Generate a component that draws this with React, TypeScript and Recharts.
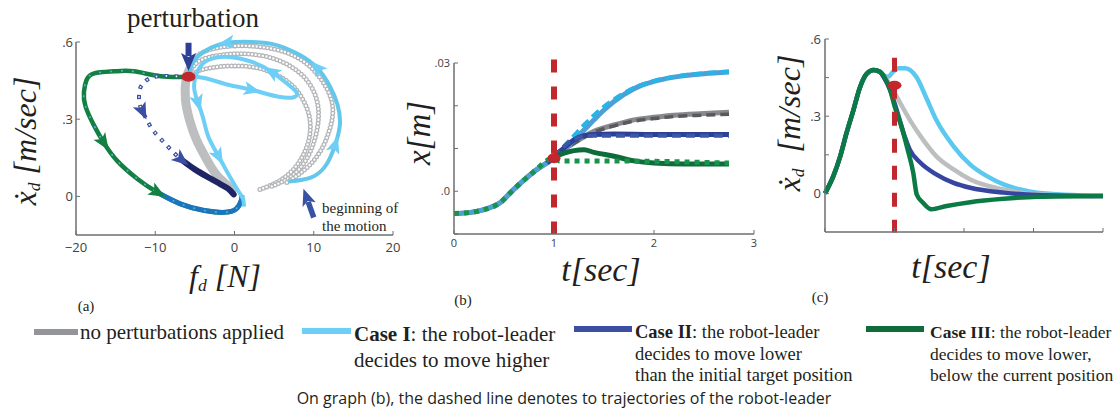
import React from 'react';
import { LineChart, Line, XAxis, YAxis, ReferenceLine, ReferenceDot } from 'recharts';

type Pt = [number, number];
const toXY = (pts: Pt[]) => pts.map(([x, y]) => ({ x, y }));

// ---------- graph (a): phase plot, f_d [N] vs xdot_d [m/sec] ----------
const aXTicks = [-20, -10, 0, 10, 20];
const aXTickLabels = ['\u221220', '\u221210', '0', '10', '20'];
const aYTicks = [0, 0.3, 0.6];
const aYTickLabels = ['0', '.3', '.6'];

const aGrayLoop1: Pt[] = [[3.2, 0.027], [5.3, 0.054], [7.2, 0.097], [8.7, 0.163], [9.5, 0.24], [9.4, 0.317], [8.5, 0.383], [7.2, 0.434], [5.3, 0.472], [2.8, 0.5], [-0.4, 0.507], [-2.9, 0.5], [-4.8, 0.484], [-5.7, 0.453]];
const aGrayLoop2: Pt[] = [[4.7, 0.039], [7, 0.074], [8.9, 0.136], [10.1, 0.22], [10.6, 0.306], [10.3, 0.383], [9.1, 0.453], [7.2, 0.503], [4.7, 0.538], [1.5, 0.554], [-1.6, 0.55], [-4.2, 0.53], [-5.6, 0.49]];
const aGrayLoop3: Pt[] = [[6.6, 0.054], [8.9, 0.105], [10.8, 0.174], [12, 0.26], [12.4, 0.345], [11.6, 0.422], [10, 0.49], [7.8, 0.542], [4.9, 0.573], [1.5, 0.585], [-1.6, 0.58], [-4.2, 0.557], [-5.4, 0.519]];
const aGrayBand: Pt[] = [[-5.6, 0.5], [-6.1, 0.457], [-6.2, 0.38], [-5.7, 0.3], [-4.8, 0.22], [-3.5, 0.143], [-2.3, 0.085], [-1, 0.046], [-0.4, 0.027], [0, 0.012]];

const aCase1Pre: Pt[] = [[6.8, 0.058], [9.7, 0.074], [11.6, 0.124], [12.7, 0.2], [13.3, 0.28], [13, 0.356], [12, 0.43], [10.4, 0.5], [8.2, 0.55], [5.3, 0.588], [2.2, 0.6], [-1, 0.596], [-3.5, 0.569], [-5.2, 0.523], [-5.8, 0.465]];
const aCase1PreArrows = [3, 7, 11];
const aCase1Post: Pt[] = [[-5.8, 0.465], [-3.8, 0.46], [-0.8, 0.434], [2.2, 0.414], [5.6, 0.387], [7.6, 0.387], [7.8, 0.406], [6.8, 0.434], [4.7, 0.484], [2.2, 0.523], [-0.8, 0.542], [-3.3, 0.53], [-4.6, 0.49], [-5.1, 0.426], [-4.6, 0.364], [-3.9, 0.298], [-3.3, 0.232], [-2, 0.155], [-0.6, 0.077], [0.6, 0.015], [1.1, -0.012], [1.2, -0.04]];
const aCase1PostArrows = [3, 8, 14, 17];

const aCase2: Pt[] = [[-5.8, 0.465], [-7.6, 0.467], [-9.2, 0.468], [-10.6, 0.46], [-11.5, 0.44], [-12, 0.41], [-12, 0.364], [-11.6, 0.33], [-10.5, 0.267], [-9.2, 0.22], [-8, 0.18], [-6.7, 0.143], [-5, 0.105], [-3.3, 0.074], [-1.8, 0.048], [-0.8, 0.03], [-0.1, 0.008]];
const aCase2Arrows = [7, 11];
const aCase2TailFrom = 11;

const aCase3: Pt[] = [[-5.8, 0.465], [-9.3, 0.467], [-12.7, 0.486], [-15.2, 0.486], [-17.7, 0.478], [-18.7, 0.45], [-19, 0.405], [-18.8, 0.35], [-17.7, 0.274], [-16.5, 0.209], [-14.8, 0.138], [-12.2, 0.067], [-9.7, 0.015], [-6.75, -0.03], [-3.8, -0.055], [-1.3, -0.062], [0.2, -0.049], [0.84, -0.017], [0.93, 0.003]];
const aCase3Arrows = [9, 12];
const aCase3TailFrom = 12;

const aPerturb: Pt = [-5.8, 0.465];

// ---------- graph (b): t [sec] vs x [m] ----------
const bXTicks = [0, 1, 2, 3];
const bYTicks = [-0.01, 0, 0.01, 0.02, 0.03];
const bYTickLabels = ['', '.0', '', '', '.03'];
const bPre: Pt[] = [[0, -0.0052], [0.15, -0.005], [0.3, -0.0043], [0.46, -0.0027], [0.6, 0.0005], [0.79, 0.0044], [1.0, 0.0078]];
const bGray: Pt[] = [...bPre, [1.1, 0.0097], [1.2, 0.0113], [1.4, 0.014], [1.6, 0.0155], [1.8, 0.0167], [2.0, 0.0173], [2.2, 0.0178], [2.5, 0.0182], [2.75, 0.0185]];
const bGrayLeader: Pt[] = [...bPre, [1.2, 0.0112], [1.4, 0.0138], [1.6, 0.0153], [1.8, 0.0164], [2.0, 0.017], [2.2, 0.0175], [2.5, 0.0178], [2.75, 0.018]];
const bCase1: Pt[] = [...bPre, [1.1, 0.0097], [1.2, 0.012], [1.3, 0.0143], [1.4, 0.0167], [1.5, 0.019], [1.6, 0.021], [1.8, 0.024], [2.0, 0.0257], [2.2, 0.0267], [2.5, 0.0275], [2.75, 0.0279]];
const bCase1Leader: Pt[] = [[1.0, 0.0078], [1.1, 0.0105], [1.2, 0.013], [1.3, 0.0155], [1.4, 0.0178], [1.5, 0.0198], [1.6, 0.0215], [1.8, 0.0242], [2.0, 0.0258], [2.2, 0.0268], [2.5, 0.0276], [2.75, 0.028]];
const bCase2: Pt[] = [[0.93, 0.0066], [1.0, 0.0082], [1.1, 0.0101], [1.2, 0.012], [1.3, 0.013], [1.4, 0.0133], [1.6, 0.0134], [2.0, 0.0133], [2.75, 0.0133]];
const bCase2Leader: Pt[] = [[1.0, 0.0078], [1.1, 0.0105], [1.2, 0.0122], [1.3, 0.0128], [1.4, 0.013], [2.0, 0.013], [2.75, 0.013]];
const bCase3: Pt[] = [[1.0, 0.0078], [1.05, 0.0085], [1.1, 0.0089], [1.2, 0.0095], [1.3, 0.0097], [1.4, 0.0091], [1.6, 0.0082], [1.8, 0.0071], [2.0, 0.0066], [2.3, 0.0064], [2.75, 0.0064]];
const bCase3Leader: Pt[] = [...bPre, [1.05, 0.0071], [1.5, 0.0071], [2.0, 0.007], [2.75, 0.0066]];
const bPerturb: Pt = [1.0, 0.0077];

// ---------- graph (c): t [sec] vs xdot_d [m/sec] ----------
const cXTicks = [0, 1, 2, 3, 4];
const cYTicks = [0, 0.15, 0.3, 0.45, 0.6];
const cYTickLabels = ['0', '', '.3', '', '.6'];
const cRise: Pt[] = [[0, 0], [0.12, 0.067], [0.22, 0.145], [0.31, 0.235], [0.41, 0.325], [0.5, 0.41], [0.6, 0.465], [0.7, 0.48], [0.79, 0.473]];
const cGray: Pt[] = [...cRise, [0.84, 0.46], [0.94, 0.42], [1.03, 0.377], [1.22, 0.286], [1.41, 0.209], [1.6, 0.145], [1.85, 0.093], [2.09, 0.054], [2.57, 0.015], [3.05, -0.004], [4, -0.01]];
const cCase1: Pt[] = [...cRise, [0.84, 0.46], [0.91, 0.454], [0.98, 0.473], [1.06, 0.486], [1.15, 0.486], [1.22, 0.48], [1.32, 0.45], [1.46, 0.37], [1.6, 0.286], [1.85, 0.183], [2.09, 0.112], [2.33, 0.067], [2.57, 0.035], [2.81, 0.015], [3.05, 0.003], [4, -0.01]];
const cCase2: Pt[] = [...cRise, [0.84, 0.454], [0.94, 0.4], [1.03, 0.325], [1.13, 0.235], [1.22, 0.17], [1.37, 0.12], [1.6, 0.074], [1.85, 0.041], [2.09, 0.022], [2.57, 0.003], [3.05, -0.006], [4, -0.01]];
const cCase3: Pt[] = [...cRise, [0.86, 0.45], [0.94, 0.4], [1.0, 0.34], [1.1, 0.26], [1.19, 0.17], [1.27, 0.08], [1.32, -0.004], [1.41, -0.036], [1.53, -0.062], [1.75, -0.049], [2.09, -0.034], [2.57, -0.021], [3.05, -0.013], [4, -0.01]];
const cPerturb: Pt = [1.0, 0.42];

// ---------- shared styling ----------
const RED = '#c1272d';
const axisLine = { stroke: '#6d6e71', strokeWidth: 1.5 };
const tickFont = { fill: '#414042', fontSize: 13, fontFamily: 'Open Sans' };
const labelFont: React.CSSProperties = { fontFamily: 'Liberation Serif', fontStyle: 'italic', color: '#231f20', whiteSpace: 'nowrap', position: 'absolute', lineHeight: 0.9 };

const arrowDot = (pts: Pt[], at: number[], color: string, sx: number, sy: number) =>
  (props: any) => {
    const { cx, cy, index } = props;
    const key = `ad-${color}-${index}`;
    if (!at.includes(index) || cx == null) return <g key={key} />;
    const b = pts[Math.min(index + 1, pts.length - 1)];
    const p = pts[Math.max(index - 1, 0)];
    const ang = (Math.atan2(-(b[1] - p[1]) * sy, (b[0] - p[0]) * sx) * 180) / Math.PI;
    return (
      <polygon key={key} points="9,0 -8,-7 -4,0 -8,7" fill={color}
        transform={`translate(${cx},${cy}) rotate(${ang})`} />
    );
  };

const arrowShape = (color: string, shaft: number, headL: number, headW: number) => (props: any) => {
  const { x1, y1, x2, y2 } = props;
  const ang = Math.atan2(y2 - y1, x2 - x1);
  const bx = x2 - Math.cos(ang) * headL;
  const by = y2 - Math.sin(ang) * headL;
  const nx = -Math.sin(ang) * headW / 2;
  const ny = Math.cos(ang) * headW / 2;
  return (
    <g>
      <line x1={x1} y1={y1} x2={bx + Math.cos(ang) * 3} y2={by + Math.sin(ang) * 3} stroke={color} strokeWidth={shaft} />
      <polygon points={`${x2},${y2} ${bx + nx},${by + ny} ${bx + Math.cos(ang) * 4},${by + Math.sin(ang) * 4} ${bx - nx},${by - ny}`} fill={color} />
    </g>
  );
};

const redDot = (rx: number, ry: number) => (p: any) => <ellipse cx={p.cx} cy={p.cy} rx={rx} ry={ry} fill={RED} />;

function ChartA() {
  const sx = 317 / 40;
  const sy = 193 / 0.75;
  const ring = (pts: Pt[], k: string) => [
    <Line key={k + 'o'} data={toXY(pts)} dataKey="y" type="natural" stroke="#b3b5b8" strokeWidth={5}
      strokeDasharray="0 3.6" strokeLinecap="round" dot={false} isAnimationActive={false} />,
    <Line key={k + 'i'} data={toXY(pts)} dataKey="y" type="natural" stroke="#ffffff" strokeWidth={2.4}
      strokeDasharray="0 3.6" strokeLinecap="round" dot={false} isAnimationActive={false} />,
  ];
  return (
    <LineChart width={420} height={300} margin={{ top: 42, right: 27, bottom: 35, left: 36 }}>
      <XAxis type="number" dataKey="x" domain={[-20, 20]} ticks={aXTicks} height={30}
        tickFormatter={(v: number) => aXTickLabels[aXTicks.indexOf(v)] ?? ''}
        axisLine={axisLine} tickLine={{ stroke: '#6d6e71' }} tickSize={-4} tickMargin={12} tick={tickFont} />
      <YAxis type="number" dataKey="y" domain={[-0.15, 0.6]} ticks={aYTicks} width={40}
        tickFormatter={(v: number) => aYTickLabels[aYTicks.indexOf(v)] ?? ''}
        axisLine={axisLine} tickLine={{ stroke: '#6d6e71' }} tickSize={-4} tickMargin={7} tick={tickFont} />
      {ring(aGrayLoop1, 'g1')}
      {ring(aGrayLoop2, 'g2')}
      {ring(aGrayLoop3, 'g3')}
      <Line data={toXY(aGrayBand)} dataKey="y" type="natural" stroke="#bcbec0" strokeWidth={9} dot={false} isAnimationActive={false} />
      <Line data={toXY(aCase3)} dataKey="y" type="natural" stroke="#118040" strokeWidth={4.5}
        dot={arrowDot(aCase3, aCase3Arrows, '#118040', sx, sy)} isAnimationActive={false} />
      <Line data={toXY(aCase3.slice(aCase3TailFrom))} dataKey="y" type="natural" stroke="#1b75bc" strokeWidth={5} dot={false} isAnimationActive={false} />
      <Line data={toXY(aCase3)} dataKey="y" type="natural" stroke="#5aa9dd" strokeWidth={1.6} strokeDasharray="2 9" dot={false} isAnimationActive={false} />
      <Line data={toXY(aCase2)} dataKey="y" type="natural" stroke="#3b4ea2" strokeWidth={4} strokeDasharray="4 6"
        dot={false} isAnimationActive={false} />
      <Line data={toXY(aCase2)} dataKey="y" type="natural" stroke="#ffffff" strokeWidth={1.7} strokeDasharray="0 1.2 1.6 7.2"
        dot={arrowDot(aCase2, aCase2Arrows, '#3b4ea2', sx, sy)} isAnimationActive={false} />
      <Line data={toXY(aCase2.slice(aCase2TailFrom))} dataKey="y" type="natural" stroke="#1f2466" strokeWidth={6} strokeLinecap="round" dot={false} isAnimationActive={false} />
      <Line data={toXY(aCase1Pre)} dataKey="y" type="natural" stroke="#62c7ea" strokeWidth={4}
        dot={arrowDot(aCase1Pre, aCase1PreArrows, '#6dcff6', sx, sy)} isAnimationActive={false} />
      <Line data={toXY(aCase1Post)} dataKey="y" type="natural" stroke="#6dcff6" strokeWidth={4}
        dot={arrowDot(aCase1Post, aCase1PostArrows, '#6dcff6', sx, sy)} isAnimationActive={false} />
      <ReferenceDot x={aPerturb[0]} y={aPerturb[1]} shape={redDot(7, 5)} ifOverflow="visible" />
      <ReferenceLine segment={[{ x: -5.8, y: 0.597 }, { x: -5.8, y: 0.487 }]} ifOverflow="visible"
        shape={arrowShape('#2e3f98', 6, 18, 15)} />
      <ReferenceLine segment={[{ x: 10, y: -0.082 }, { x: 8.7, y: 0.03 }]} ifOverflow="visible"
        shape={arrowShape('#3953a4', 5.5, 17, 14)} />
    </LineChart>
  );
}

function ChartB() {
  const L = (pts: Pt[], color: string, w: number, dash?: string) => (
    <Line data={toXY(pts)} dataKey="y" type="monotone" stroke={color} strokeWidth={w}
      strokeDasharray={dash} dot={false} isAnimationActive={false} />
  );
  return (
    <LineChart width={380} height={300} margin={{ top: 63, right: 26, bottom: 36, left: 14 }}>
      <XAxis type="number" dataKey="x" domain={[0, 3]} ticks={bXTicks} height={30}
        axisLine={axisLine} tickLine={{ stroke: '#6d6e71' }} tickSize={-4} tickMargin={9} tick={{ ...tickFont, fontSize: 11 }} />
      <YAxis type="number" dataKey="y" domain={[-0.01, 0.03]} ticks={bYTicks} width={40}
        tickFormatter={(v: number) => bYTickLabels[bYTicks.findIndex((t) => Math.abs(t - v) < 1e-9)] ?? ''}
        axisLine={axisLine} tickLine={{ stroke: '#6d6e71' }} tickSize={-4} tickMargin={8} tick={{ ...tickFont, fontSize: 11 }} />
      {L(bGray, '#87898c', 5)}
      {L(bGrayLeader, '#58595b', 3.5, '9 5')}
      {L(bCase1, '#4e9fd6', 5)}
      {L(bCase1Leader, '#27b4e6', 4, '9 5')}
      {L(bCase2, '#2e3f98', 5)}
      {L(bCase2Leader, '#3b58a8', 4, '9 5')}
      {L(bCase3, '#0f6b3a', 5)}
      {L(bCase3Leader, '#16944b', 5, '5 5')}
      <ReferenceLine segment={[{ x: 1, y: 0.0308 }, { x: 1, y: -0.01 }]} ifOverflow="visible"
        stroke={RED} strokeWidth={6} strokeDasharray="13 14" />
      <ReferenceDot x={bPerturb[0]} y={bPerturb[1]} shape={redDot(6.5, 5)} ifOverflow="visible" />
    </LineChart>
  );
}

function ChartC() {
  const L = (pts: Pt[], color: string) => (
    <Line data={toXY(pts)} dataKey="y" type="monotone" stroke={color} strokeWidth={4.5} dot={false} isAnimationActive={false} />
  );
  return (
    <LineChart width={345} height={300} margin={{ top: 39, right: 12, bottom: 38, left: 15 }}>
      <XAxis type="number" dataKey="x" domain={[0, 4]} ticks={cXTicks} height={30} tickFormatter={() => ''}
        axisLine={axisLine} tickLine={{ stroke: '#6d6e71' }} tickSize={-4} tickMargin={9} tick={tickFont} />
      <YAxis type="number" dataKey="y" domain={[-0.15, 0.6]} ticks={cYTicks} width={40}
        tickFormatter={(v: number) => cYTickLabels[cYTicks.indexOf(v)] ?? ''}
        axisLine={axisLine} tickLine={{ stroke: '#6d6e71' }} tickSize={-4} tickMargin={8} tick={tickFont} />
      {L(cCase1, '#5bc8f0')}
      {L(cGray, '#bcbec0')}
      {L(cCase2, '#3545a0')}
      {L(cCase3, '#0b7a45')}
      <ReferenceLine segment={[{ x: 1, y: 0.527 }, { x: 1, y: -0.152 }]} ifOverflow="visible"
        stroke={RED} strokeWidth={5} strokeDasharray="14 13" />
      <ReferenceDot x={cPerturb[0]} y={cPerturb[1]} shape={redDot(7, 4.5)} ifOverflow="visible" />
    </LineChart>
  );
}

const sub = (t: string) => <span style={{ fontSize: '0.55em', verticalAlign: '-0.25em' }}>{t}</span>;

function LegendBar({ left, top, width, color }: { left: number; top: number; width: number; color: string }) {
  return <div style={{ position: 'absolute', left, top, width, height: 6, background: color }} />;
}

export default function App() {
  const serif: React.CSSProperties = { position: 'absolute', fontFamily: 'Liberation Serif', color: '#231f20', whiteSpace: 'nowrap', lineHeight: 1 };
  return (
    <div style={{ position: 'fixed', left: 0, top: 0, width: 1115, height: 414, background: '#fff', overflow: 'hidden' }}>
      <div style={{ position: 'absolute', left: 0, top: 0 }}><ChartA /></div>
      <div style={{ position: 'absolute', left: 400, top: 0 }}><ChartB /></div>
      <div style={{ position: 'absolute', left: 770, top: 0 }}><ChartC /></div>

      {/* graph titles and axis labels */}
      <div style={{ ...serif, left: 193, top: 18, fontSize: 27, transform: 'translate(-50%,-50%)' }}>perturbation</div>
      <div style={{ ...labelFont, left: 27, top: 141, fontSize: 32, transform: 'translate(-50%,-50%) rotate(-90deg)' }}>{'\u1E8B'}{sub('d')} [m/sec]</div>
      <div style={{ ...labelFont, left: 225, top: 278, fontSize: 32, transform: 'translate(-50%,-50%)' }}>f{sub('d')} [N]</div>
      <div style={{ ...serif, left: 322, top: 199, fontSize: 15, lineHeight: '18px' }}>beginning of<br />the motion</div>
      <div style={{ ...serif, left: 86, top: 306, fontSize: 15, transform: 'translate(-50%,-50%)' }}>(a)</div>

      <div style={{ ...labelFont, left: 420, top: 133, fontSize: 33, transform: 'translate(-50%,-50%) rotate(-90deg)' }}>x[m]</div>
      <div style={{ ...labelFont, left: 601, top: 270, fontSize: 34, transform: 'translate(-50%,-50%)' }}>t[sec]</div>
      <div style={{ ...serif, left: 463, top: 300, fontSize: 15, transform: 'translate(-50%,-50%)' }}>(b)</div>

      <div style={{ ...labelFont, left: 791, top: 123, fontSize: 32, transform: 'translate(-50%,-50%) rotate(-90deg)' }}>{'\u1E8B'}{sub('d')}&nbsp;&nbsp;[m/sec]</div>
      <div style={{ ...labelFont, left: 951, top: 267, fontSize: 34, transform: 'translate(-50%,-50%)' }}>t[sec]</div>
      <div style={{ ...serif, left: 820, top: 297, fontSize: 15, transform: 'translate(-50%,-50%)' }}>(c)</div>

      {/* legend */}
      <LegendBar left={34} top={329} width={44} color="#939598" />
      <div style={{ ...serif, left: 80, top: 332, fontSize: 21, transform: 'translateY(-50%)' }}>no perturbations applied</div>

      <LegendBar left={302} top={328} width={49} color="#6dcff6" />
      <div style={{ ...serif, left: 354, top: 321, fontSize: 21, lineHeight: '26px' }}><b>Case I</b>: the robot-leader<br />decides to move higher</div>

      <LegendBar left={574} top={326} width={58} color="#3b4ea2" />
      <div style={{ ...serif, left: 635, top: 322, fontSize: 18.5, lineHeight: '21.5px' }}><b>Case II</b>: the robot-leader<br />decides to move lower<br />than the initial target position</div>

      <LegendBar left={866} top={326} width={58} color="#0f6b3a" />
      <div style={{ ...serif, left: 930, top: 322, fontSize: 17.5, lineHeight: '21.5px' }}><b>Case III</b>: the robot-leader<br />decides to move lower,<br />below the current position</div>

      <div style={{ position: 'absolute', left: 564, top: 399, transform: 'translate(-50%,-50%)', fontFamily: 'Open Sans', fontSize: 16, lineHeight: 1.2, color: '#231f20', whiteSpace: 'nowrap' }}>
        On graph (b), the dashed line denotes to trajectories of the robot-leader
      </div>
    </div>
  );
}
